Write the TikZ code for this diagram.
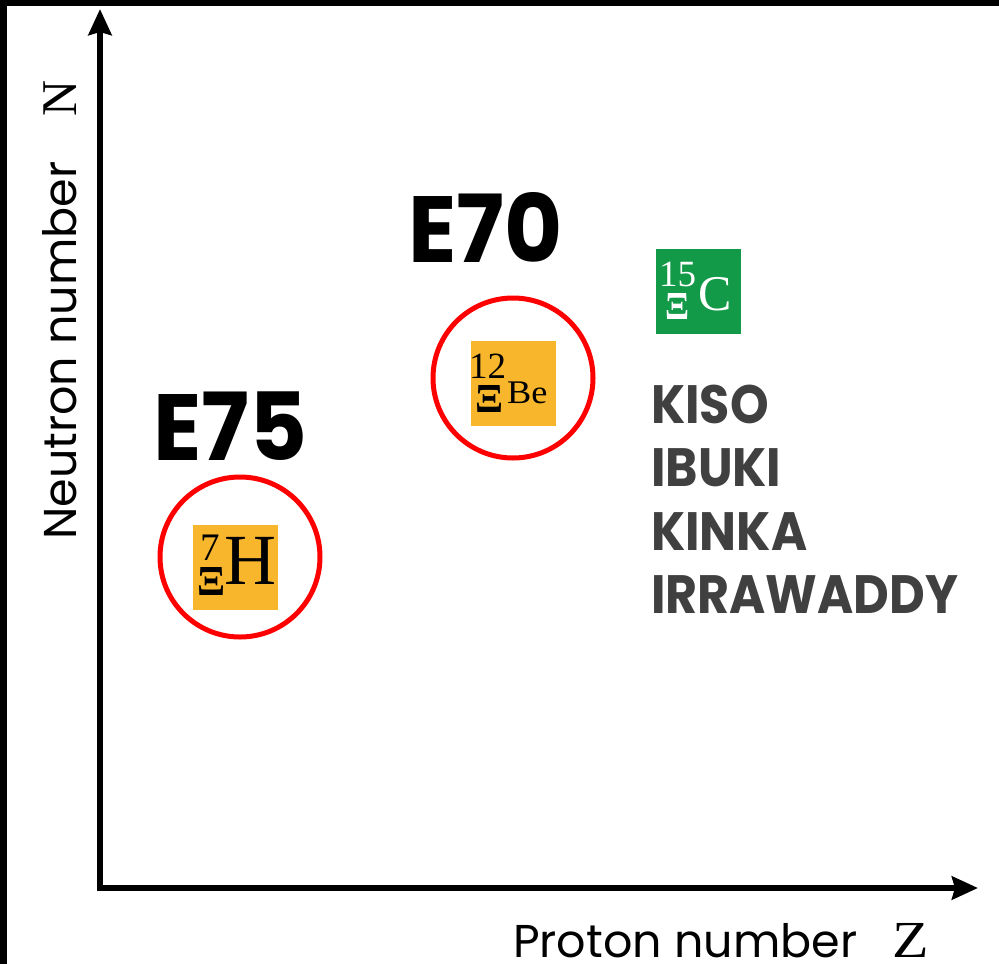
\documentclass[tikz,border=0pt]{standalone}
\usepackage{fontspec}
\usepackage{graphicx}
\setmainfont{Liberation Serif}
\newfontfamily\gothic{Poppins}
\usetikzlibrary{arrows.meta}
\definecolor{hyporange}{HTML}{F8B62D}
\definecolor{hypgreen}{HTML}{139A48}
\definecolor{labelgray}{HTML}{404040}
% capital Xi scaled to a given width and height
\newcommand{\xisym}[2]{\resizebox*{#1}{#2}{\bfseries Ξ}}
\tikzset{
  axis/.style={line width=6pt, line join=miter,
    {Stealth[length=26pt,width=23pt,inset=3pt]}-{Stealth[length=26pt,width=23pt,inset=3pt]}},
  ring/.style={draw=red, line width=5pt},
  nucbox/.style={minimum width=85pt, minimum height=85pt, inner sep=0pt},
  glyph/.style={inner sep=0pt, anchor=base west},
  explabel/.style={glyph, font=\gothic\bfseries\fontsize{94}{94}\selectfont},
  runlabel/.style={glyph, text=labelgray, font=\gothic\bfseries\fontsize{54}{54}\selectfont},
  axislabel/.style={glyph, font=\gothic\fontsize{46}{46}\selectfont},
}
\begin{document}
\begin{tikzpicture}[x=1pt, y=-1pt]
\useasboundingbox (0,0) rectangle (999,964);
% frame edges
\fill[black] (0,0) rectangle (999,6);
\fill[black] (0,0) rectangle (7,964);

% axes
\coordinate (origin) at (100,888);
\coordinate (ytip) at (100,9);
\coordinate (xtip) at (978,888);
\draw[axis] (ytip) -- (origin) -- (xtip);

\node[axislabel] (zlabel) at (513,957) {Proton number};
\node[glyph, font=\fontsize{52}{52}\selectfont] (zsym) at (892,957) {\scalebox{1.15}[1]{Z}};
\node[axislabel, rotate=90] (nlabel) at (76,540) {Neutron number};
\node[glyph, rotate=90, font=\fontsize{50}{50}\selectfont] (nsym) at (76,117) {N};

% experiment labels
\node[explabel] (e75) at (153,460) {\scalebox{0.95}[1]{E75}};
\node[explabel] (e70) at (408,262) {\scalebox{0.95}[1]{E70}};

% 7 Xi H
\node[ring, circle, minimum size=160pt] (ringH) at (240,557) {};
\node[nucbox, fill=hyporange] (boxH) at (235.5,567) {};
\node[glyph, font=\fontsize{39}{39}\selectfont] (aH) at (200,560) {7};
\node[glyph] (xiH) at (197,595) {\xisym{28pt}{28pt}};
\node[glyph, font=\fontsize{72}{72}\selectfont] (symH) at (224,584) {H};

% 12 Xi Be
\node[ring, circle, minimum size=160pt] (ringBe) at (513,378) {};
\node[nucbox, fill=hyporange] (boxBe) at (513.5,383.5) {};
\node[glyph, font=\fontsize{37}{37}\selectfont] (aBe) at (469,378) {12};
\node[glyph] (xiBe) at (475,412) {\xisym{28pt}{27pt}};
\node[glyph, font=\fontsize{33}{33}\selectfont] (symBe) at (507,403) {\scalebox{1.1}[1]{Be}};

% 15 Xi C
\node[nucbox, fill=hypgreen] (boxC) at (698.5,291.5) {};
\node[glyph, text=white, font=\fontsize{37}{37}\selectfont] (aC) at (659,286) {15};
\node[glyph, text=white] (xiC) at (665,319) {\xisym{24pt}{26pt}};
\node[glyph, text=white, font=\fontsize{50}{50}\selectfont] (symC) at (698,310) {C};

% emulsion events
\node[runlabel] (kiso) at (651,423) {\scalebox{0.91}[1]{KISO}};
\node[runlabel] (ibuki) at (651,486) {\scalebox{0.91}[1]{IBUKI}};
\node[runlabel] (kinka) at (651,550) {\scalebox{0.91}[1]{KINKA}};
\node[runlabel] (irrawaddy) at (651,613) {\scalebox{0.91}[1]{IRRAWADDY}};
\end{tikzpicture}
\end{document}
